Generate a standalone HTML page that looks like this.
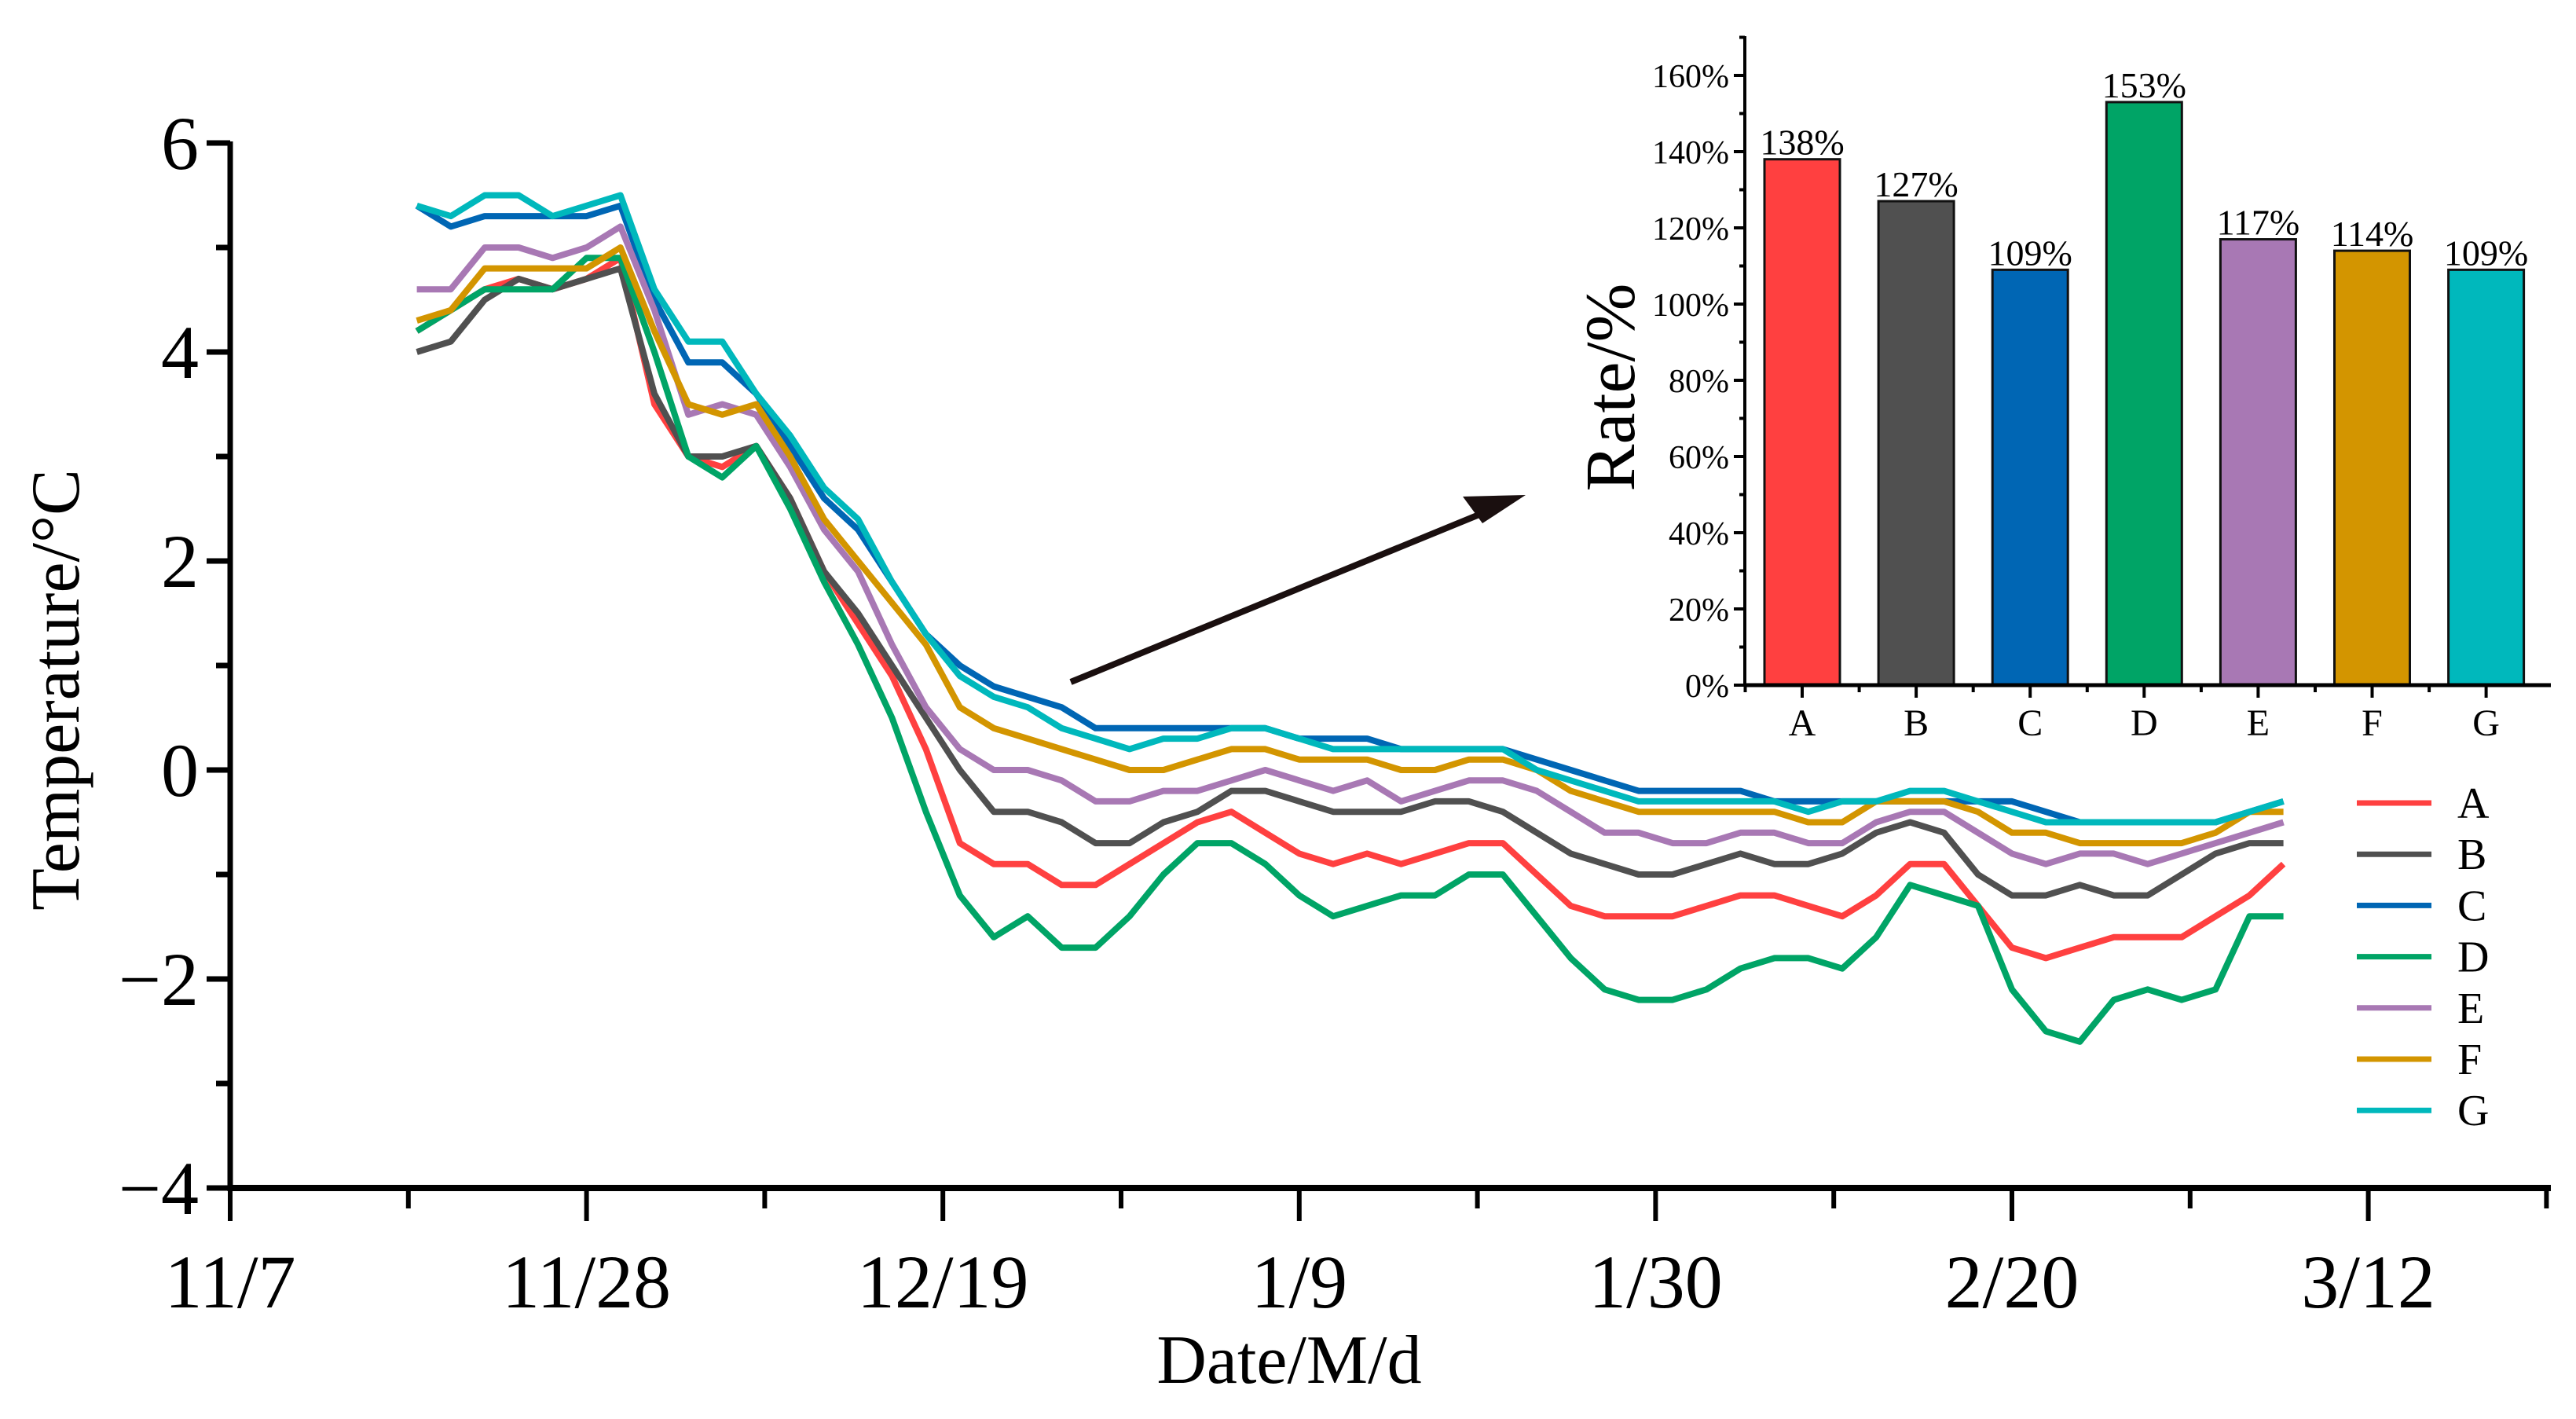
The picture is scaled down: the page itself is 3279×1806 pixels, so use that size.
<!DOCTYPE html>
<html><head><meta charset="utf-8"><style>
html,body{margin:0;padding:0;background:#fff}
svg{display:block}
text{font-family:"Liberation Serif",serif;fill:#000}
</style></head><body>
<svg id="chart" xmlns="http://www.w3.org/2000/svg" width="3279" height="1806" viewBox="0 0 3279 1806">
<rect width="3279" height="1806" fill="#fff"/>
<g id="main"></g>
<g id="inset"></g>
</svg>
<script>
// ---- data ----
const days = [11,13,15,17,19,21,23,25,27,29,31,33,35,37,39,41,43,45,47,49,51,53,55,57,59,61,63,65,67,69,71,73,75,77,79,81,83,85,87,89,91,93,95,97,99,101,103,105,107,109,111,113,115,117,119,121];
const seriesA = [4.2,4.4,4.6,4.7,4.6,4.7,4.9,3.5,3.0,2.9,3.1,2.6,1.9,1.4,0.9,0.2,-0.7,-0.9,-0.9,-1.1,-1.1,-0.9,-0.7,-0.5,-0.4,-0.6,-0.8,-0.9,-0.8,-0.9,-0.8,-0.7,-0.7,-1.0,-1.3,-1.4,-1.4,-1.4,-1.3,-1.2,-1.2,-1.3,-1.4,-1.2,-0.9,-0.9,-1.3,-1.7,-1.8,-1.7,-1.6,-1.6,-1.6,-1.4,-1.2,-0.9];
const seriesB = [4.0,4.1,4.5,4.7,4.6,4.7,4.8,3.6,3.0,3.0,3.1,2.6,1.9,1.5,1.0,0.5,0.0,-0.4,-0.4,-0.5,-0.7,-0.7,-0.5,-0.4,-0.2,-0.2,-0.3,-0.4,-0.4,-0.4,-0.3,-0.3,-0.4,-0.6,-0.8,-0.9,-1.0,-1.0,-0.9,-0.8,-0.9,-0.9,-0.8,-0.6,-0.5,-0.6,-1.0,-1.2,-1.2,-1.1,-1.2,-1.2,-1.0,-0.8,-0.7,-0.7];
const seriesC = [5.4,5.2,5.3,5.3,5.3,5.3,5.4,4.5,3.9,3.9,3.6,3.1,2.6,2.3,1.8,1.3,1.0,0.8,0.7,0.6,0.4,0.4,0.4,0.4,0.4,0.4,0.3,0.3,0.3,0.2,0.2,0.2,0.2,0.1,0.0,-0.1,-0.2,-0.2,-0.2,-0.2,-0.3,-0.3,-0.3,-0.3,-0.3,-0.3,-0.3,-0.3,-0.4,-0.5,-0.5,-0.5,-0.5,-0.5,-0.4,-0.3];
const seriesD = [4.2,4.4,4.6,4.6,4.6,4.9,4.9,4.0,3.0,2.8,3.1,2.5,1.8,1.2,0.5,-0.4,-1.2,-1.6,-1.4,-1.7,-1.7,-1.4,-1.0,-0.7,-0.7,-0.9,-1.2,-1.4,-1.3,-1.2,-1.2,-1.0,-1.0,-1.4,-1.8,-2.1,-2.2,-2.2,-2.1,-1.9,-1.8,-1.8,-1.9,-1.6,-1.1,-1.2,-1.3,-2.1,-2.5,-2.6,-2.2,-2.1,-2.2,-2.1,-1.4,-1.4];
const seriesE = [4.6,4.6,5.0,5.0,4.9,5.0,5.2,4.4,3.4,3.5,3.4,2.9,2.3,1.9,1.2,0.6,0.2,0.0,0.0,-0.1,-0.3,-0.3,-0.2,-0.2,-0.1,0.0,-0.1,-0.2,-0.1,-0.3,-0.2,-0.1,-0.1,-0.2,-0.4,-0.6,-0.6,-0.7,-0.7,-0.6,-0.6,-0.7,-0.7,-0.5,-0.4,-0.4,-0.6,-0.8,-0.9,-0.8,-0.8,-0.9,-0.8,-0.7,-0.6,-0.5];
const seriesF = [4.3,4.4,4.8,4.8,4.8,4.8,5.0,4.2,3.5,3.4,3.5,3.0,2.4,2.0,1.6,1.2,0.6,0.4,0.3,0.2,0.1,0.0,0.0,0.1,0.2,0.2,0.1,0.1,0.1,0.0,0.0,0.1,0.1,0.0,-0.2,-0.3,-0.4,-0.4,-0.4,-0.4,-0.4,-0.5,-0.5,-0.3,-0.3,-0.3,-0.4,-0.6,-0.6,-0.7,-0.7,-0.7,-0.7,-0.6,-0.4,-0.4];
const seriesG = [5.4,5.3,5.5,5.5,5.3,5.4,5.5,4.6,4.1,4.1,3.6,3.2,2.7,2.4,1.8,1.3,0.9,0.7,0.6,0.4,0.3,0.2,0.3,0.3,0.4,0.4,0.3,0.2,0.2,0.2,0.2,0.2,0.2,0.0,-0.1,-0.2,-0.3,-0.3,-0.3,-0.3,-0.3,-0.4,-0.3,-0.3,-0.2,-0.2,-0.3,-0.4,-0.5,-0.5,-0.5,-0.5,-0.5,-0.5,-0.4,-0.3];
const seriesNames = ["A","B","C","D","E","F","G"];
const xTickDays = [0,21,42,63,84,105,126];
const xTickLabels = ["11/7","11/28","12/19","1/9","1/30","2/20","3/12"];
const yTicks = [-4,-2,0,2,4,6];
const yTickLabels = ["\u22124","\u22122","0","2","4","6"];
const barCategories = ["A","B","C","D","E","F","G"];
const barValues = [138,127,109,153,117,114,109];
const barLabels = ["138%","127%","109%","153%","117%","114%","109%"];
const barTicks = [0,20,40,60,80,100,120,140,160];

const colors = ["#ff4040","#505050","#0066b4","#00a466","#a878b4","#d39500","#00b8bc"];
const NS = "http://www.w3.org/2000/svg";
function mk(tag, attrs, parent){const e=document.createElementNS(NS,tag);for(const k in attrs)e.setAttribute(k,attrs[k]);parent.appendChild(e);return e;}

// ---- main axes ----
const main = document.getElementById('main');
const X0 = 293, PXD = 21.6, XEND = 3247;
const YB = 1512, YT = 182;
const xs = d => X0 + d*PXD;
const ys = v => YB - (v + 4) * (YB - YT) / 10;

let ax = mk('line',{x1:X0,y1:YB,x2:XEND,y2:YB,stroke:'#000','stroke-width':8},main);
 
ax = mk('line',{x1:X0,y1:YB+4,x2:X0,y2:YT-2,stroke:'#000','stroke-width':7},main);
 

xTickDays.forEach((d,i)=>{
  const t = mk('line',{x1:xs(d),y1:YB,x2:xs(d),y2:YB+42,stroke:'#000','stroke-width':6},main);
   
  if(i<xTickDays.length-1){
    const m = mk('line',{x1:xs(d+10.5),y1:YB,x2:xs(d+10.5),y2:YB+26,stroke:'#000','stroke-width':6},main);
     
  }
  const l = mk('text',{x:xs(d),y:YB+152,'font-size':96,'text-anchor':'middle'},main);
  l.textContent = xTickLabels[i];
   
});
let mt = mk('line',{x1:xs(136.5),y1:YB,x2:xs(136.5),y2:YB+26,stroke:'#000','stroke-width':6},main);
 

yTicks.forEach((v,i)=>{
  const t = mk('line',{x1:X0-30,y1:ys(v),x2:X0,y2:ys(v),stroke:'#000','stroke-width':7},main);
   
  if(i<yTicks.length-1){
    const m = mk('line',{x1:X0-18,y1:ys(v+1),x2:X0,y2:ys(v+1),stroke:'#000','stroke-width':7},main);
     
  }
  const l = mk('text',{x:X0-40,y:ys(v)+33,'font-size':96,'text-anchor':'end'},main);
  l.textContent = yTickLabels[i];
   
});

let tt = mk('text',{x:0,y:0,'font-size':88,'text-anchor':'middle',transform:'translate(100,878) rotate(-90)'},main);
tt.textContent = 'Temperature/\u00B0C';
 
tt = mk('text',{x:1641,y:1760,'font-size':88,'text-anchor':'middle'},main);
tt.textContent = 'Date/M/d';
 

const allSeries = [seriesA,seriesB,seriesC,seriesD,seriesE,seriesF,seriesG];
allSeries.forEach((s,k)=>{
  const pts = s.map((v,i)=>xs(days[i]).toFixed(1)+','+ys(v).toFixed(1)).join(' ');
  const p = mk('polyline',{points:pts,fill:'none',stroke:colors[k],'stroke-width':8,'stroke-linejoin':'round'},main);
  
  
});

// legend
seriesNames.forEach((n,k)=>{
  const y = 1022 + k*65.2;
  const l = mk('line',{x1:3000,y1:y,x2:3095,y2:y,stroke:colors[k],'stroke-width':7},main);
   
  const t = mk('text',{x:3128,y:y+19,'font-size':56},main);
  t.textContent = n;
   
});

// arrow
let ar = mk('line',{x1:1363,y1:868,x2:1890,y2:652,stroke:'#1a0f0f','stroke-width':8},main);
 
ar = mk('polygon',{points:'1942,630 1862,632 1887,666',fill:'#1a0f0f'},main);
 

// ---- inset ----
const inset = document.getElementById('inset');
const IL = 2221, IR = 3247, IB = 872, IT = 46;
const bs = v => IB - v * 4.85;
const bx = i => 2294 + i*145.1;
const BW = 96;

barValues.forEach((v,i)=>{
  const r = mk('rect',{x:bx(i)-BW/2,y:bs(v),width:BW,height:IB-bs(v),fill:colors[i],stroke:'#111','stroke-width':3},inset);
   
  const t = mk('text',{x:bx(i),y:bs(v)-6,'font-size':46,'text-anchor':'middle'},inset);
  t.textContent = barLabels[i];
   
  const c = mk('text',{x:bx(i),y:IB+64,'font-size':48,'text-anchor':'middle'},inset);
  c.textContent = barCategories[i];
   
  const tk = mk('line',{x1:bx(i),y1:IB,x2:bx(i),y2:IB+16,stroke:'#000','stroke-width':4},inset);
   
  const mn = mk('line',{x1:bx(i)-72.5,y1:IB,x2:bx(i)-72.5,y2:IB+9,stroke:'#000','stroke-width':4},inset);
   
});
let ia = mk('line',{x1:IL,y1:IB,x2:IR,y2:IB,stroke:'#000','stroke-width':5},inset);
 
ia = mk('line',{x1:IL,y1:IB+2,x2:IL,y2:IT,stroke:'#000','stroke-width':4},inset);
 
barTicks.forEach(v=>{
  const t = mk('line',{x1:IL-14,y1:bs(v),x2:IL,y2:bs(v),stroke:'#000','stroke-width':4},inset);
   
  const m = mk('line',{x1:IL-7,y1:bs(v+10),x2:IL,y2:bs(v+10),stroke:'#000','stroke-width':4},inset);
   
  const l = mk('text',{x:IL-20,y:bs(v)+15,'font-size':42,'text-anchor':'end'},inset);
  l.textContent = v+'%';
   
});
let rt = mk('text',{x:0,y:0,'font-size':90,'text-anchor':'middle',transform:'translate(2080,493) rotate(-90)'},inset);
rt.textContent = 'Rate/%';
 
</script>
</body></html>
